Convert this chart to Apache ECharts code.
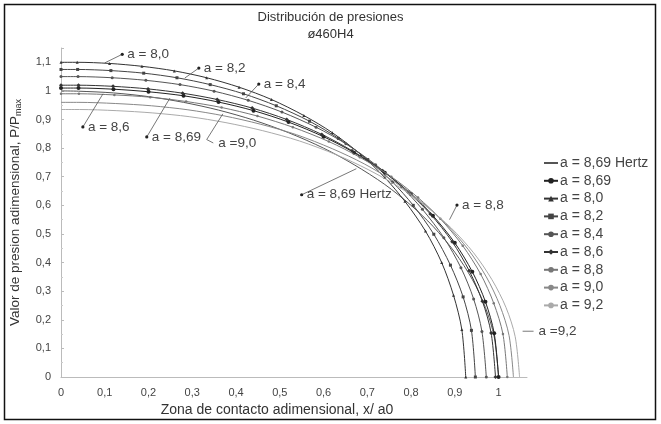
<!DOCTYPE html>
<html><head><meta charset="utf-8">
<script src="https://cdn.jsdelivr.net/npm/echarts@6/dist/echarts.min.js"></script>
<style>html,body{margin:0;padding:0;background:#fff}#c{width:661px;height:424px}</style>
</head><body><div id="c"></div>
<script>
// ---- data (x/a0, P/Pmax) ----
const seriesNames = ['a = 8,69 Hertz','a = 8,69','a = 8,0','a = 8,2','a = 8,4','a = 8,6','a = 8,8','a = 9,0','a = 9,2'];
const hertz869 = [[0,1],[0.04,0.999],[0.12,0.993],[0.2,0.98],[0.28,0.96],[0.36,0.933],[0.44,0.898],[0.52,0.854],[0.6,0.8],[0.67,0.742],[0.74,0.673],[0.8,0.6],[0.85,0.527],[0.9,0.436],[0.94,0.341],[0.97,0.243],[0.99,0.141],[1.0,0]];
const a869 = [[0,1.01],[0.04,1.01],[0.12,1.006],[0.2,0.997],[0.28,0.983],[0.36,0.961],[0.44,0.931],[0.52,0.891],[0.6,0.84],[0.67,0.784],[0.74,0.714],[0.8,0.64],[0.85,0.564],[0.9,0.469],[0.94,0.368],[0.97,0.263],[0.99,0.153],[1.0,0]];
const a80 = [[0,1.1],[0.037,1.1],[0.111,1.096],[0.185,1.086],[0.259,1.07],[0.333,1.046],[0.407,1.013],[0.481,0.97],[0.555,0.914],[0.62,0.854],[0.685,0.778],[0.74,0.697],[0.786,0.614],[0.833,0.51],[0.87,0.4],[0.897,0.286],[0.916,0.166],[0.925,0]];
const a82 = [[0,1.075],[0.038,1.075],[0.114,1.071],[0.189,1.062],[0.265,1.046],[0.341,1.022],[0.417,0.99],[0.492,0.948],[0.568,0.894],[0.634,0.834],[0.701,0.76],[0.758,0.681],[0.805,0.6],[0.852,0.499],[0.89,0.391],[0.919,0.28],[0.938,0.163],[0.947,0]];
const a84 = [[0,1.05],[0.039,1.05],[0.117,1.046],[0.194,1.037],[0.272,1.022],[0.35,0.999],[0.428,0.967],[0.505,0.926],[0.583,0.873],[0.651,0.815],[0.719,0.742],[0.778,0.665],[0.826,0.586],[0.875,0.487],[0.914,0.382],[0.943,0.273],[0.962,0.159],[0.972,0]];
const a86 = [[0,1.02],[0.04,1.02],[0.119,1.016],[0.199,1.007],[0.278,0.992],[0.357,0.97],[0.437,0.94],[0.516,0.9],[0.596,0.848],[0.665,0.791],[0.735,0.721],[0.794,0.646],[0.844,0.57],[0.894,0.473],[0.933,0.371],[0.963,0.265],[0.983,0.154],[0.993,0]];
const a88 = [[0,0.99],[0.041,0.99],[0.122,0.986],[0.204,0.978],[0.286,0.963],[0.367,0.942],[0.449,0.912],[0.53,0.873],[0.612,0.823],[0.683,0.768],[0.755,0.7],[0.816,0.627],[0.867,0.553],[0.918,0.459],[0.959,0.36],[0.989,0.258],[1.01,0.15],[1.02,0]];
const a90 = [[0,0.96],[0.041,0.96],[0.124,0.956],[0.207,0.948],[0.29,0.934],[0.372,0.913],[0.455,0.884],[0.538,0.847],[0.62,0.798],[0.693,0.745],[0.765,0.679],[0.827,0.608],[0.879,0.536],[0.931,0.445],[0.972,0.35],[1.003,0.25],[1.024,0.145],[1.034,0]];
const a92 = [[0,0.935],[0.042,0.935],[0.126,0.931],[0.21,0.923],[0.293,0.91],[0.377,0.889],[0.461,0.861],[0.545,0.825],[0.629,0.777],[0.702,0.725],[0.776,0.661],[0.838,0.592],[0.891,0.522],[0.943,0.434],[0.985,0.34],[1.017,0.243],[1.038,0.141],[1.048,0]];
const seriesData = [hertz869, a869, a80, a82, a84, a86, a88, a90, a92];

const xTicks = [0,0.1,0.2,0.3,0.4,0.5,0.6,0.7,0.8,0.9,1];
const yTicks = [0,0.1,0.2,0.3,0.4,0.5,0.6,0.7,0.8,0.9,1,1.1];

// annotations: label, marker point, curve anchor (data coords)
const annotations = [
  {text:'a = 8,0',  at:[0.14,1.128], to:[0.10,1.098]},
  {text:'a = 8,2',  at:[0.315,1.08], to:[0.283,1.045]},
  {text:'a = 8,4',  at:[0.452,1.024],to:[0.422,0.975]},
  {text:'a = 8,6',  at:[0.05,0.874], to:[0.096,0.99]},
  {text:'a = 8,69', at:[0.196,0.839],to:[0.249,0.975]},
  {text:'a =9,0',   at:[0.348,0.818],to:[0.333,0.83], via:[0.37,0.92], nodot:true},
  {text:'a = 8,69 Hertz', at:[0.55,0.637], to:[0.675,0.728]},
  {text:'a = 8,8',  at:[0.905,0.601],to:[0.888,0.55]},
  {text:'a =9,2',   at:[1.08,0.16],  to:[1.055,0.16], nodot:true}
];

const styles = [
  {color:'#555', symbol:'path://M-1,0L1,0M0,-1L0,1', size:4, w:1},
  {color:'#222', symbol:'circle', size:4, w:1},
  {color:'#333', symbol:'triangle', size:3, w:1},
  {color:'#444', symbol:'rect', size:3, w:1},
  {color:'#555', symbol:'circle', size:3, w:1},
  {color:'#333', symbol:'diamond', size:4, w:1},
  {color:'#777', symbol:'circle', size:2.5, w:1},
  {color:'#888', symbol:'none', size:0, w:1},
  {color:'#aaa', symbol:'none', size:0, w:1}
];

const FONT = 'Liberation Sans';
const chart = echarts.init(document.getElementById('c'), null, {renderer:'canvas'});
const fmt = v => String(Math.round(v*100)/100).replace('.', ',');

chart.setOption({
  animation:false,
  backgroundColor:'#fff',
  title:{text:'Distribución de presiones', subtext:'ø460H4', left:'center', top:6, itemGap:4,
    textStyle:{fontFamily:FONT, fontSize:13, fontWeight:'normal', color:'#333'},
    subtextStyle:{fontFamily:FONT, fontSize:13, color:'#333'}},
  legend:{orient:'vertical', left:538, top:151, itemGap:3.8, itemWidth:14, itemHeight:7,
    data:seriesNames, textStyle:{fontFamily:FONT, fontSize:14, color:'#444', padding:[0,0,0,-3]}},
  grid:{left:61, right:134, top:48, bottom:47},
  xAxis:{type:'value', min:0, max:1.065, interval:0.1,
    axisLine:{lineStyle:{color:'#bbb'}}, axisTick:{show:false}, splitLine:{show:false},
    axisLabel:{showMaxLabel:false, formatter:v=>xTicks.some(t=>Math.abs(t-v)<1e-6)?fmt(v):'', fontFamily:FONT, fontSize:11, color:'#444', margin:10},
    name:'Zona de contacto adimensional, x/ a0', nameLocation:'middle', nameGap:26,
    nameTextStyle:{fontFamily:FONT, fontSize:14, color:'#333', padding:[0,34,0,0]}},
  yAxis:{type:'value', min:0, max:1.15, interval:0.1,
    axisLine:{show:true, lineStyle:{color:'#bbb'}}, axisTick:{show:true, length:3, inside:true, lineStyle:{color:'#bbb'}},
    minorTick:{show:true, splitNumber:2, length:2, lineStyle:{color:'#ccc'}},
    splitLine:{show:false},
    axisLabel:{showMaxLabel:false, formatter:v=>yTicks.some(t=>Math.abs(t-v)<1e-6)?fmt(v):'', fontFamily:FONT, fontSize:11, color:'#444', margin:10},
    name:'{a|Valor de presion adimensional, P/P}{b|max}', nameLocation:'middle', nameGap:38, nameRotate:90,
    nameTextStyle:{fontFamily:FONT, fontSize:13.5, color:'#333', padding:[0,0,0,0],
      rich:{a:{fontFamily:FONT, fontSize:13.5, color:'#333'}, b:{fontFamily:FONT, fontSize:9, color:'#333', verticalAlign:'bottom', padding:[6,0,0,0]}}}},
  series: seriesNames.map((n,i)=>({
    name:n, type:'line', data:seriesData[i], smooth:0.3,
    symbol:styles[i].symbol, symbolSize:styles[i].size, showSymbol:styles[i].symbol!=='none',
    lineStyle:{color:styles[i].color, width:styles[i].w},
    itemStyle:{color:styles[i].color, borderWidth:0},
    z: 2+i
  }))
});

// annotations with leader lines
const g = [];
annotations.forEach(a=>{
  const p = chart.convertToPixel({gridIndex:0}, a.at);
  const q = chart.convertToPixel({gridIndex:0}, a.to);
  const pts = [p, q];
  if (a.via) pts.push(chart.convertToPixel({gridIndex:0}, a.via));
  g.push({type:'polyline', shape:{points:pts}, style:{stroke:'#555', lineWidth:0.8, fill:null}, z:50});
  if (!a.nodot) g.push({type:'circle', shape:{cx:p[0], cy:p[1], r:1.6}, style:{fill:'#222'}, z:51});
  g.push({type:'text', x:p[0]+5, y:p[1], style:{text:a.text, font:'13.5px "Liberation Sans"', fill:'#444', verticalAlign:'middle'}, z:52});
});
g.push({type:'rect', shape:{x:4.5, y:4.5, width:651, height:415}, style:{fill:null, stroke:'#111', lineWidth:1.5}, z:60});
chart.setOption({graphic:g});
</script></body></html>
